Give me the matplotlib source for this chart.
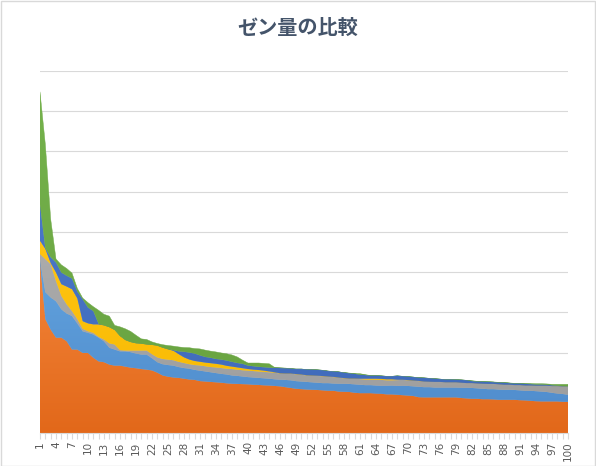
import matplotlib
matplotlib.use("Agg")
import matplotlib.pyplot as plt
import numpy as np
from matplotlib.colors import to_rgb

x = list(range(1, 101))

orange = [
    42.5, 28.3, 25.7, 23.7, 23.7, 22.8, 20.75, 20.75, 19.9, 19.9,
    18.7, 17.8, 17.6, 17.0, 16.75, 16.75, 16.5, 16.25, 16.1, 15.9,
    15.75, 15.55, 15.0, 14.3, 14.0, 13.8, 13.7, 13.5, 13.3, 13.2,
    12.9, 12.8, 12.7, 12.6, 12.5, 12.35, 12.25, 12.2, 12.15, 12.1,
    12.0, 11.95, 11.85, 11.8, 11.7, 11.6, 11.4, 11.2, 11.0, 10.9,
    10.8, 10.75, 10.7, 10.6, 10.5, 10.5, 10.3, 10.25, 10.2, 10.0,
    9.9, 9.9, 9.9, 9.8, 9.75, 9.6, 9.6, 9.5, 9.4, 9.3,
    9.2, 8.9, 8.85, 8.85, 8.85, 8.85, 8.85, 8.85, 8.85, 8.7,
    8.6, 8.5, 8.5, 8.4, 8.4, 8.35, 8.25, 8.25, 8.25, 8.25,
    8.15, 8.1, 8.0, 7.9, 7.85, 7.85, 7.85, 7.85, 7.75, 7.75]

light_blue = [
    0.5, 6.7, 8.0, 9.05, 7.05, 6.9, 8.35, 6.5, 5.4, 5.0,
    5.8, 5.9, 5.2, 4.2, 4.0, 3.55, 3.8, 3.85, 3.65, 3.6,
    3.75, 3.05, 2.6, 2.8, 2.9, 2.95, 2.7, 2.65, 2.7, 2.5,
    2.6, 2.5, 2.4, 2.3, 2.2, 2.2, 2.05, 2.0, 1.9, 1.8,
    1.8, 1.75, 1.75, 1.7, 1.65, 1.65, 1.8, 1.9, 1.9, 1.9,
    1.9, 1.85, 1.8, 1.8, 1.9, 1.8, 1.95, 2.0, 2.0, 2.1,
    2.1, 2.0, 2.0, 2.0, 2.0, 2.15, 2.2, 2.2, 2.35, 2.4,
    2.4, 2.6, 2.55, 2.55, 2.45, 2.45, 2.45, 2.45, 2.45, 2.55,
    2.65, 2.7, 2.6, 2.6, 2.5, 2.55, 2.55, 2.5, 2.5, 2.45,
    2.45, 2.4, 2.5, 2.5, 2.45, 2.35, 2.15, 1.95, 1.95, 1.75]

gray = [
    1.5, 8.25, 8.25, 5.05, 3.35, 2.3, 1.2, 1.05, 0.6, 0.4,
    0.4, 0.2, 0.45, 1.1, 1.25, 0.3, 0.2, 0.4, 0.75, 1.0,
    1.0, 1.0, 1.2, 1.3, 1.35, 1.35, 1.3, 1.25, 1.1, 1.2,
    1.3, 1.3, 1.3, 1.4, 1.45, 1.45, 1.6, 1.55, 1.55, 1.6,
    1.6, 1.6, 1.6, 1.6, 1.65, 1.55, 1.55, 1.65, 1.7, 1.7,
    1.6, 1.65, 1.7, 1.7, 1.6, 1.6, 1.5, 1.35, 1.3, 1.4,
    1.4, 1.4, 1.35, 1.45, 1.45, 1.35, 1.3, 1.45, 1.45, 1.4,
    1.4, 1.4, 1.4, 1.35, 1.4, 1.4, 1.3, 1.3, 1.3, 1.25,
    1.15, 1.2, 1.2, 1.25, 1.3, 1.3, 1.3, 1.25, 1.25, 1.2,
    1.3, 1.3, 1.3, 1.35, 1.45, 1.55, 1.65, 1.85, 1.9, 2.1]

yellow = [
    3.3, 2.5, 0.3, 2.1, 2.9, 4.4, 5.45, 5.15, 1.9, 1.95,
    2.1, 3.1, 3.5, 4.0, 3.6, 3.5, 2.6, 2.1, 1.8, 1.7,
    1.5, 2.3, 2.9, 2.8, 2.55, 2.35, 1.9, 1.4, 1.15, 1.0,
    0.9, 0.9, 0.95, 0.9, 0.85, 0.7, 0.6, 0.55, 0.5, 0.4,
    0.35, 0.35, 0.3, 0.2, 0.1, 0.05, 0.05, 0.05, 0.05, 0.05,
    0.05, 0.05, 0.05, 0.05, 0.05, 0.05, 0.05, 0.05, 0.05, 0.05,
    0.1, 0.2, 0.25, 0.25, 0.25, 0.25, 0.25, 0.1, 0.05, 0.05,
    0.05, 0.05, 0.0, 0.0, 0.0, 0.0, 0.0, 0.0, 0.0, 0.0,
    0.0, 0.0, 0.0, 0.0, 0.0, 0.0, 0.0, 0.0, 0.0, 0.0,
    0.0, 0.0, 0.0, 0.0, 0.0, 0.0, 0.0, 0.0, 0.0, 0.0]

dark_blue = [
    9.0, 0.2, 1.45, 2.5, 2.9, 2.7, 2.65, 1.7, 5.45, 3.95,
    3.3, 0.1, 0.0, 0.0, 0.0, 0.0, 0.0, 0.0, 0.0, 0.0,
    0.0, 0.0, 0.0, 0.0, 0.0, 0.15, 0.7, 1.4, 1.75, 1.85,
    1.6, 1.4, 1.35, 1.2, 1.25, 1.3, 1.2, 1.1, 1.1, 0.85,
    0.85, 0.8, 0.85, 0.95, 1.1, 1.3, 1.3, 1.2, 1.25, 1.35,
    1.45, 1.45, 1.45, 1.45, 1.35, 1.35, 1.4, 1.35, 1.3, 1.15,
    1.0, 0.9, 0.75, 0.75, 0.75, 0.75, 0.75, 0.95, 0.85, 0.85,
    0.85, 0.8, 0.9, 0.85, 0.8, 0.7, 0.7, 0.7, 0.65, 0.7,
    0.7, 0.5, 0.5, 0.5, 0.5, 0.45, 0.45, 0.5, 0.4, 0.4,
    0.4, 0.4, 0.35, 0.3, 0.3, 0.25, 0.2, 0.1, 0.05, 0.0]

green = [
    28.0, 25.8, 9.5, 0.85, 1.9, 1.8, 1.35, 0.8, 0.3, 1.2,
    1.1, 3.4, 2.75, 2.75, 1.15, 2.3, 2.8, 2.65, 2.0, 1.2,
    1.25, 0.75, 0.55, 0.75, 0.95, 1.0, 1.1, 1.05, 1.2, 1.25,
    1.6, 1.7, 1.65, 1.75, 1.65, 1.7, 1.7, 1.5, 0.9, 0.65,
    0.8, 0.95, 0.95, 0.95, 0.1, 0.05, 0.05, 0.0, 0.0, 0.0,
    0.0, 0.0, 0.0, 0.0, 0.0, 0.0, 0.0, 0.0, 0.05, 0.1,
    0.25, 0.1, 0.05, 0.0, 0.0, 0.0, 0.0, 0.0, 0.0, 0.0,
    0.0, 0.0, 0.0, 0.0, 0.0, 0.0, 0.0, 0.0, 0.0, 0.0,
    0.0, 0.1, 0.05, 0.05, 0.05, 0.05, 0.05, 0.05, 0.05, 0.05,
    0.05, 0.1, 0.15, 0.2, 0.2, 0.2, 0.25, 0.35, 0.45, 0.5]

tick_labels = [str(v) for v in range(1, 101, 3)]
title = "ゼン量の比較"

# (top colour, bottom colour) of each series' gradient fill
grad_colors = [
    ("#F3853A", "#E2681A"),   # orange
    ("#62A3DE", "#4E8ACB"),   # light blue
    ("#ABABAB", "#9C9C9C"),   # gray
    ("#FFC413", "#F7B900"),   # yellow
    ("#4A78C9", "#3F69B8"),   # dark blue
    ("#75B24C", "#67A240"),   # green
]

fig = plt.figure(figsize=(5.96, 4.66), dpi=100)
ax = fig.add_axes([40/596, 1-433/466, 528/596, 362/466])
ax.set_xlim(1, 100)
ax.set_ylim(0, 90)

series = [orange, light_blue, gray, yellow, dark_blue, green]
polys = ax.stackplot(x, *series, colors=[c[1] for c in grad_colors],
                     linewidth=0.3, antialiased=True)
cum = np.zeros(len(x))
for poly, s, (ctop, cbot) in zip(polys, series, grad_colors):
    top = cum + np.array(s)
    ymin, ymax = 0.0, float(top.max())
    c1 = np.array(to_rgb(ctop))
    c2 = np.array(to_rgb(cbot))
    t = np.linspace(0, 1, 256)[:, None]
    img = (c1[None, :] * (1 - t) + c2[None, :] * t)[:, None, :]
    poly.set_edgecolor([tuple(c2)])
    im = ax.imshow(img, extent=[1, 100, ymin, ymax], aspect="auto",
                   origin="upper", interpolation="bilinear", zorder=poly.get_zorder())
    im.set_clip_path(poly.get_paths()[0], ax.transData)
    poly.set_facecolor("none")
    cum = top

ax.set_xlim(1, 100)
ax.set_ylim(0, 90)
ax.set_yticks(np.arange(0, 91, 10))
ax.yaxis.grid(True, color="#D9D9D9", linewidth=0.8)
ax.set_axisbelow(True)
ax.tick_params(axis="y", left=False, labelleft=False)
for sp in ["top", "right", "left"]:
    ax.spines[sp].set_visible(False)
ax.spines["bottom"].set_color("#D9D9D9")
ax.spines["bottom"].set_linewidth(0.8)
ax.spines["bottom"].set_zorder(5)

ax.set_xticks(x, minor=True)
ax.set_xticks(list(range(1, 101, 3)))
ax.set_xticklabels(tick_labels, rotation=90, fontsize=7.5, color="#595959")
ax.tick_params(axis="x", which="both", length=4, color="#D9D9D9", width=0.8, pad=2)

fig.text(0.5, 1-27/466, title, ha="center", va="center", fontsize=14.5,
         fontweight="bold", color="#44546A",
         family=["Noto Sans CJK JP", "DejaVu Sans"])

border = plt.Rectangle((0.001, 0.001), 0.997, 0.997, transform=fig.transFigure,
                       fill=False, edgecolor="#D9D9D9", linewidth=1)
fig.patches.append(border)

fig.savefig("out.png", dpi=100)
